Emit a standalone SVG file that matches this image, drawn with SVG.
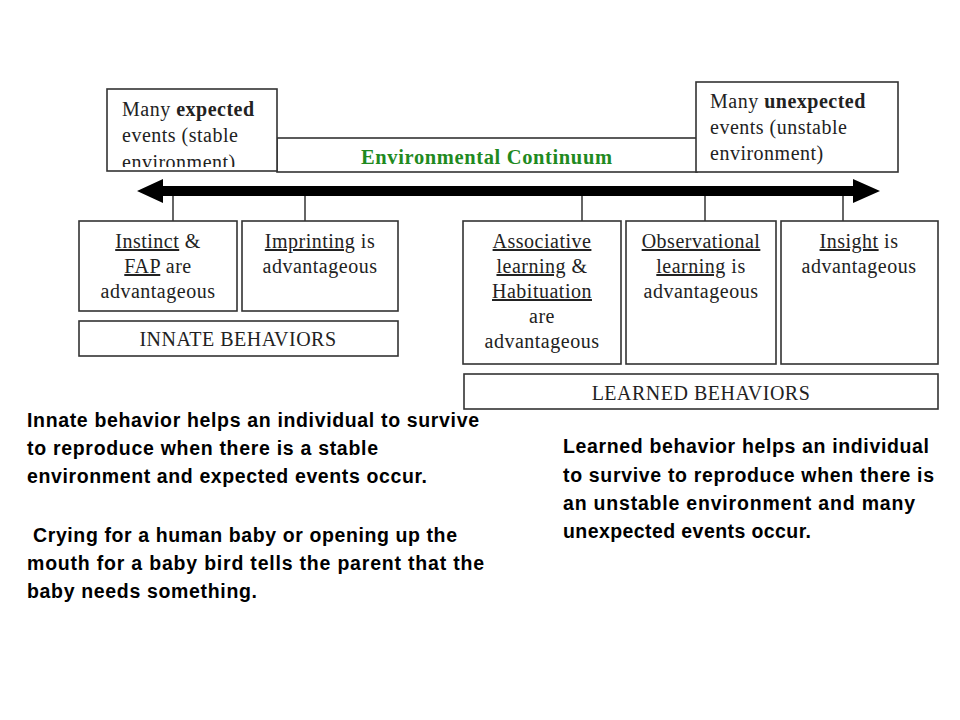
<svg xmlns="http://www.w3.org/2000/svg" width="960" height="720" viewBox="0 0 960 720">
<style>
.box{fill:#fff;stroke:#333;stroke-width:1.6}
.s{font-family:"Liberation Serif","Times New Roman",serif;font-size:20px;letter-spacing:0.5px;fill:#222}
.c{text-anchor:middle}
.u{text-decoration:underline}
.b{font-weight:bold}
.tick{stroke:#333;stroke-width:1.5}
.p{font-family:"Liberation Sans",Arial,sans-serif;font-size:19.5px;font-weight:bold;fill:#000}
</style>
<defs>
<clipPath id="clipL"><rect x="107" y="89" width="170" height="78"/></clipPath>
</defs>
<rect width="960" height="720" fill="#fff"/>

<g id="continuum">
<rect class="box" x="277" y="138" width="420" height="34"/>
<text x="361" y="164" font-family="'Liberation Serif','Times New Roman',serif" font-size="20.5" font-weight="bold" fill="#1f8a1f" textLength="251">Environmental Continuum</text>
</g>

<g id="expected">
<rect class="box" x="107" y="89" width="170" height="82"/>
<g clip-path="url(#clipL)">
<text class="s" x="122" y="116">Many <tspan class="b">expected</tspan></text>
<text class="s" x="122" y="142">events (stable</text>
<text class="s" x="122" y="169">environment)</text>
</g>
</g>

<g id="unexpected">
<rect class="box" x="696" y="82" width="202" height="90"/>
<text class="s" x="710" y="108">Many <tspan class="b">unexpected</tspan></text>
<text class="s" x="710" y="134">events (unstable</text>
<text class="s" x="710" y="160">environment)</text>
</g>

<g id="connectors">
<polygon points="137,191 163,179 163,186 853,186 853,179 880,191 853,203 853,196 163,196 163,203" fill="#000"/>
<line class="tick" x1="173" y1="196" x2="173" y2="221"/>
<line class="tick" x1="305" y1="196" x2="305" y2="221"/>
<line class="tick" x1="582" y1="196" x2="582" y2="221"/>
<line class="tick" x1="705" y1="196" x2="705" y2="221"/>
<line class="tick" x1="843" y1="196" x2="843" y2="221"/>
</g>

<g id="instinct">
<rect class="box" x="79" y="221" width="158" height="90"/>
<text class="s c" x="158" y="248"><tspan class="u">Instinct</tspan> &amp;</text>
<text class="s c" x="158" y="273"><tspan class="u">FAP</tspan> are</text>
<text class="s c" x="158" y="298">advantageous</text>
</g>

<g id="imprinting">
<rect class="box" x="242" y="221" width="156" height="90"/>
<text class="s c" x="320" y="248"><tspan class="u">Imprinting</tspan> is</text>
<text class="s c" x="320" y="273">advantageous</text>
</g>

<g id="innate">
<rect class="box" x="79" y="321" width="319" height="35"/>
<text class="s c" x="238" y="346">INNATE BEHAVIORS</text>
</g>

<g id="associative">
<rect class="box" x="463" y="221" width="158" height="143"/>
<text class="s c" x="542" y="248"><tspan class="u">Associative</tspan></text>
<text class="s c" x="542" y="273"><tspan class="u">learning</tspan> &amp;</text>
<text class="s c" x="542" y="298"><tspan class="u">Habituation</tspan></text>
<text class="s c" x="542" y="323">are</text>
<text class="s c" x="542" y="348">advantageous</text>
</g>

<g id="observational">
<rect class="box" x="626" y="221" width="150" height="143"/>
<text class="s c" x="701" y="248"><tspan class="u">Observational</tspan></text>
<text class="s c" x="701" y="273"><tspan class="u">learning</tspan> is</text>
<text class="s c" x="701" y="298">advantageous</text>
</g>

<g id="insight">
<rect class="box" x="781" y="221" width="157" height="143"/>
<text class="s c" x="859" y="248"><tspan class="u">Insight</tspan> is</text>
<text class="s c" x="859" y="273">advantageous</text>
</g>

<g id="learned">
<rect class="box" x="464" y="374" width="474" height="35"/>
<text class="s c" x="701" y="400">LEARNED BEHAVIORS</text>
</g>

<g id="innate-text">
<text class="p" x="27" y="427" textLength="452">Innate behavior helps an individual to survive</text>
<text class="p" x="27" y="455" textLength="351">to reproduce when there is a stable</text>
<text class="p" x="27" y="483" textLength="400">environment and expected events occur.</text>
<text class="p" x="33" y="542" textLength="424">Crying for a human baby or opening up the</text>
<text class="p" x="27" y="570" textLength="457">mouth for a baby bird tells the parent that the</text>
<text class="p" x="27" y="598" textLength="230">baby needs something.</text>
</g>

<g id="learned-text">
<text class="p" x="563" y="453" textLength="366">Learned behavior helps an individual</text>
<text class="p" x="563" y="482" textLength="371">to survive to reproduce when there is</text>
<text class="p" x="563" y="510" textLength="352">an unstable environment and many</text>
<text class="p" x="563" y="538" textLength="248">unexpected events occur.</text>
</g>
</svg>
